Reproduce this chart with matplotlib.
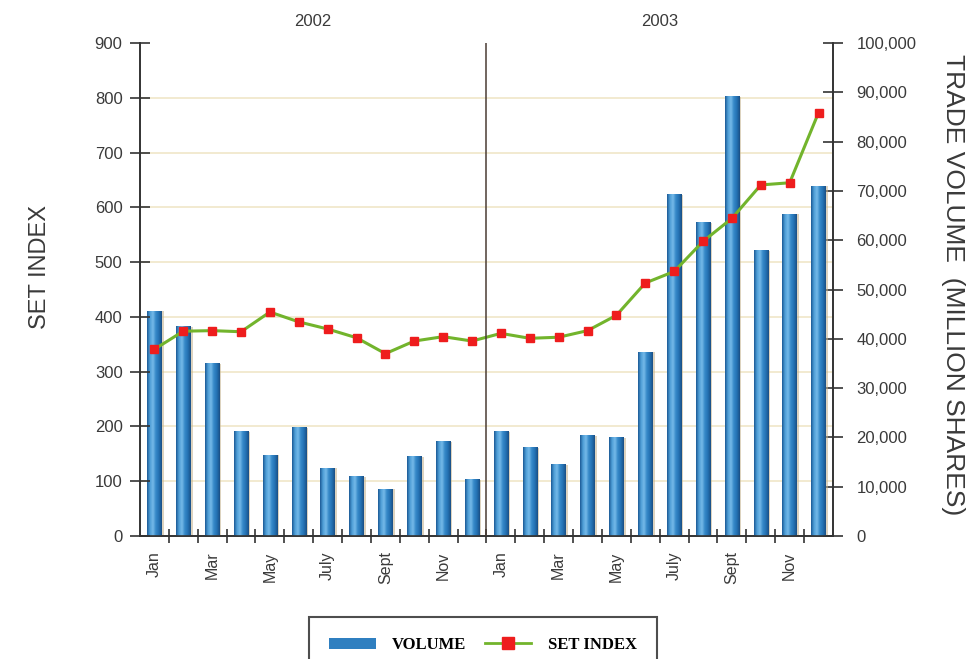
import numpy as np
import matplotlib.pyplot as plt
from matplotlib.colors import LinearSegmentedColormap
from matplotlib.patches import Patch
from matplotlib.lines import Line2D
from matplotlib.ticker import FuncFormatter, FixedLocator
from matplotlib.transforms import blended_transform_factory

# Monthly data, Jan 2002 - Dec 2003
months = ["Jan", "Feb", "Mar", "Apr", "May", "June",
          "July", "Aug", "Sept", "Oct", "Nov", "Dec"] * 2
month_labels = ["Jan", "", "Mar", "", "May", "",
                "July", "", "Sept", "", "Nov", ""] * 2
years = ["2002", "2003"]

# trade volume (million shares)
volume = [45600, 42400, 34900, 21100, 16400, 22000,
          13700, 12000, 9500, 16100, 19100, 11400,
          21150, 17900, 14500, 20300, 19900, 37250,
          69200, 63500, 89100, 57850, 65300, 71000]

# SET index
set_index = [341, 374, 375, 373, 409, 391,
             378, 362, 333, 356, 364, 356,
             370, 361, 363, 375, 403, 462,
             483, 538, 580, 641, 645, 773]

plt.rcParams["font.family"] = ["Liberation Sans", "DejaVu Sans"]
text_color = "#3a3a3a"
axis_color = "#333333"

fig = plt.figure(figsize=(9.74, 6.59), dpi=100)
ax_idx = fig.add_axes([0.1437, 0.1866, 0.7115, 0.748])
ax_vol = ax_idx.twinx()
ax_idx.set_zorder(ax_vol.get_zorder() + 1)
ax_idx.patch.set_visible(False)

x = np.arange(len(months))
idx_max, vol_max = 900, 100000

# Volume bars with a soft shadow and a cylinder-like gradient
ax_vol.bar(x + 0.07, volume, width=0.5, color="#c2b08c", alpha=0.55, zorder=2)
bars = ax_vol.bar(x, volume, width=0.5, color="#2f7fc0", zorder=3)
grad_cmap = LinearSegmentedColormap.from_list(
    "cyl", ["#1b5a96", "#4f9fd8", "#74b9e8", "#3588c8", "#2472b3", "#1a4f85"])
grad = np.linspace(0, 1, 64).reshape(1, -1)
for b in bars:
    ax_vol.imshow(grad, cmap=grad_cmap, aspect="auto", zorder=4,
                  extent=[b.get_x(), b.get_x() + b.get_width(), 0, b.get_height()])

ax_vol.set_ylim(0, vol_max)
ax_vol.set_xlim(-0.5, len(months) - 0.5)
ax_vol.set_yticks(np.arange(0, vol_max + 1, 10000))
ax_vol.yaxis.set_major_formatter(FuncFormatter(lambda v, p: f"{v:,.0f}"))

# grid follows the SET index scale (every 100), drawn behind the bars
ax_vol.yaxis.set_minor_locator(
    FixedLocator(np.arange(100, idx_max + 1, 100) * vol_max / idx_max))
ax_vol.tick_params(axis="y", which="minor", length=0)
ax_vol.grid(axis="y", which="minor", color="#f0e6c8", linewidth=1.2, zorder=0)
ax_vol.set_axisbelow(True)

# SET index line
ax_idx.plot(x, set_index, color="#72b42c", linewidth=2.2, marker="s",
            markersize=6, markerfacecolor="#ee1d1d", markeredgecolor="#ee1d1d",
            zorder=5)
ax_idx.set_ylim(0, idx_max)
ax_idx.set_xlim(-0.5, len(months) - 0.5)
ax_idx.set_yticks(np.arange(0, idx_max + 1, 100))

# year divider
ax_idx.axvline(11.5, color="#4a3c34", linewidth=1.1, zorder=6)

# x ticks: labels at centres, tick marks at month boundaries
ax_idx.set_xticks(x)
ax_idx.set_xticklabels(month_labels, rotation=90, fontsize=11.5, color=text_color)
ax_idx.xaxis.set_minor_locator(FixedLocator(np.arange(0.5, len(months) - 1, 1)))
ax_idx.tick_params(axis="x", which="major", length=0, pad=11)
ax_idx.tick_params(axis="x", which="minor", direction="inout", length=10,
                   width=1.2, color=axis_color)

ax_idx.tick_params(axis="y", direction="inout", length=15, width=1.2,
                   color=axis_color, labelcolor=text_color, labelsize=12, pad=5)
ax_vol.tick_params(axis="y", which="major", direction="inout", length=14,
                   width=1.2, color=axis_color, labelcolor=text_color,
                   labelsize=12, pad=10)

for a in (ax_idx, ax_vol):
    a.spines["top"].set_visible(False)
    for s in ("left", "right", "bottom"):
        a.spines[s].set_color(axis_color)
        a.spines[s].set_linewidth(1.2)

# year headings
trans = blended_transform_factory(ax_idx.transData, ax_idx.transAxes)
for i, yr in enumerate(years):
    ax_idx.text(5.5 + 12 * i, 1.043, yr, transform=trans, ha="center",
                va="center", fontsize=12, color=text_color)

fig.text(40 / 974, 1 - 267 / 659, "SET INDEX", rotation=90, ha="center",
         va="center", fontsize=17, color=text_color)
fig.text(953 / 974, 1 - 285 / 659, "TRADE VOLUME  (MILLION SHARES)",
         rotation=-90, ha="center", va="center", fontsize=19, color=text_color)

handles = [
    Patch(facecolor="#2f7fc0", edgecolor="none"),
    Line2D([0], [0], color="#72b42c", linewidth=2, marker="s", markersize=8,
           markerfacecolor="#ee1d1d", markeredgecolor="#ee1d1d"),
]
leg = fig.legend(handles, ["VOLUME", "SET INDEX"], loc="upper center",
                 bbox_to_anchor=(483 / 974, 1 - 609 / 659), ncol=2,
                 frameon=True, fancybox=False, edgecolor="#222222",
                 prop={"family": ["Liberation Serif"], "weight": "bold", "size": 12},
                 handlelength=2.8, handletextpad=1.0, columnspacing=1.1,
                 borderpad=1.2)
leg.get_frame().set_linewidth(1.5)

fig.savefig("out.png", dpi=100)
